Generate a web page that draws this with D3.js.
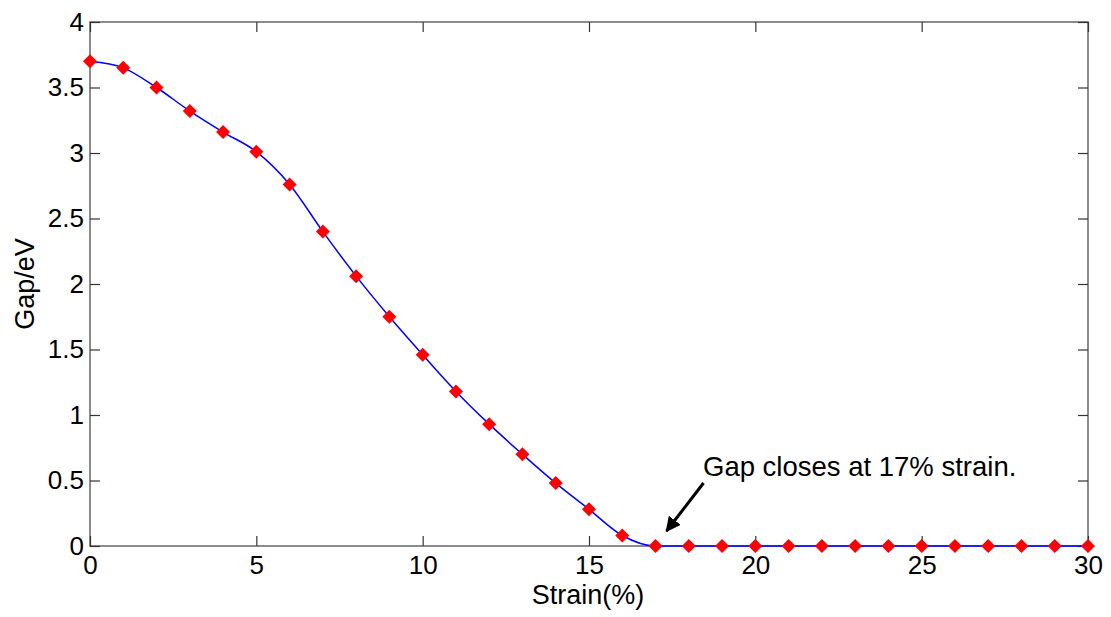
<!DOCTYPE html>
<html>
<head>
<meta charset="utf-8">
<script src="https://cdn.jsdelivr.net/npm/d3@7"></script>
<style>
  body { margin: 0; background: #fff; }
  text { font-family: Arial, "Liberation Sans", sans-serif; }
</style>
</head>
<body>
<svg id="chart" width="1111" height="617"></svg>
<script>
// data
var strain = [0, 1, 2, 3, 4, 5, 6, 7, 8, 9, 10, 11, 12, 13, 14, 15, 16, 17, 18, 19, 20, 21, 22, 23, 24, 25, 26, 27, 28, 29, 30];
var gap = [3.70, 3.65, 3.50, 3.32, 3.16, 3.01, 2.76, 2.40, 2.06, 1.75, 1.46, 1.18, 0.93, 0.70, 0.48, 0.28, 0.08,
           0, 0, 0, 0, 0, 0, 0, 0, 0, 0, 0, 0, 0, 0];
var xTicks = [0, 5, 10, 15, 20, 25, 30];
var yTicks = [0, 0.5, 1, 1.5, 2, 2.5, 3, 3.5, 4];
var note = 'Gap closes at 17% strain.';
var noteAt = 17;

// plot box (note: "top" is a window global, so use other names)
var plotL = 90, plotR = 1088, plotT = 22, plotB = 546;
var fontSize = 26;

var svg = d3.select('#chart');

var x = d3.scaleLinear().domain([0, 30]).range([plotL, plotR]);
var y = d3.scaleLinear().domain([0, 4]).range([plotB, plotT]);

// frame
svg.append('rect')
  .attr('x', plotL).attr('y', plotT)
  .attr('width', plotR - plotL).attr('height', plotB - plotT)
  .attr('fill', 'none').attr('stroke', '#666').attr('stroke-width', 1.5);

function styleAxis(g) {
  g.select('.domain').remove();
  g.selectAll('.tick line').attr('stroke', '#333').attr('stroke-width', 1.2);
  g.selectAll('.tick text').attr('fill', '#000')
    .style('font-size', fontSize + 'px')
    .style('font-family', 'Arial, "Liberation Sans", sans-serif');
}

// bottom axis, ticks pointing in
svg.append('g')
  .attr('transform', 'translate(0,' + plotB + ')')
  .call(d3.axisBottom(x).tickValues(xTicks).tickSize(-10).tickPadding(10).tickFormat(d3.format('d')))
  .call(styleAxis);

// top axis ticks only
svg.append('g')
  .attr('transform', 'translate(0,' + plotT + ')')
  .call(d3.axisTop(x).tickValues(xTicks).tickSize(-10).tickFormat(''))
  .call(styleAxis);

// left axis
svg.append('g')
  .attr('transform', 'translate(' + plotL + ',0)')
  .call(d3.axisLeft(y).tickValues(yTicks).tickSize(-10).tickPadding(6).tickFormat(d3.format('')))
  .call(styleAxis);

// right axis ticks only
svg.append('g')
  .attr('transform', 'translate(' + plotR + ',0)')
  .call(d3.axisRight(y).tickValues(yTicks).tickSize(-10).tickFormat(''))
  .call(styleAxis);

// axis titles
svg.append('text')
  .attr('x', 588).attr('y', 604)
  .attr('text-anchor', 'middle')
  .style('font-size', '27px')
  .text('Strain(%)');

svg.append('text')
  .attr('transform', 'translate(34,' + (plotT + plotB) / 2 + ') rotate(-90)')
  .attr('text-anchor', 'middle')
  .style('font-size', '27px')
  .text('Gap/eV');

// data line
var pts = strain.map(function(s, i) { return [s, gap[i]]; });
var line = d3.line()
  .x(function(d) { return x(d[0]); })
  .y(function(d) { return y(d[1]); })
  .curve(d3.curveMonotoneX);

svg.append('path')
  .datum(pts)
  .attr('d', line)
  .attr('fill', 'none')
  .attr('stroke', '#0000ff')
  .attr('stroke-width', 1.5);

// diamond markers
var diamond = d3.symbol().type(d3.symbolSquare).size(98);
svg.selectAll('.mark')
  .data(pts)
  .enter().append('path')
  .attr('class', 'mark')
  .attr('transform', function(d) { return 'translate(' + x(d[0]) + ',' + y(d[1]) + ') rotate(45)'; })
  .attr('d', diamond)
  .attr('fill', '#ff0000');

// annotation
svg.append('defs').append('marker')
  .attr('id', 'head')
  .attr('viewBox', '0 0 10 10')
  .attr('refX', 9).attr('refY', 5)
  .attr('markerWidth', 5).attr('markerHeight', 5)
  .attr('orient', 'auto')
  .append('path')
  .attr('d', 'M0,0 L10,5 L0,10 z')
  .attr('fill', '#000');

svg.append('line')
  .attr('x1', x(noteAt) + 48).attr('y1', 483)
  .attr('x2', x(noteAt) + 11).attr('y2', y(0) - 15)
  .attr('stroke', '#000').attr('stroke-width', 3)
  .attr('marker-end', 'url(#head)');

svg.append('text')
  .attr('x', 703).attr('y', 476)
  .style('font-size', '27.5px')
  .text(note);
</script>
</body>
</html>
